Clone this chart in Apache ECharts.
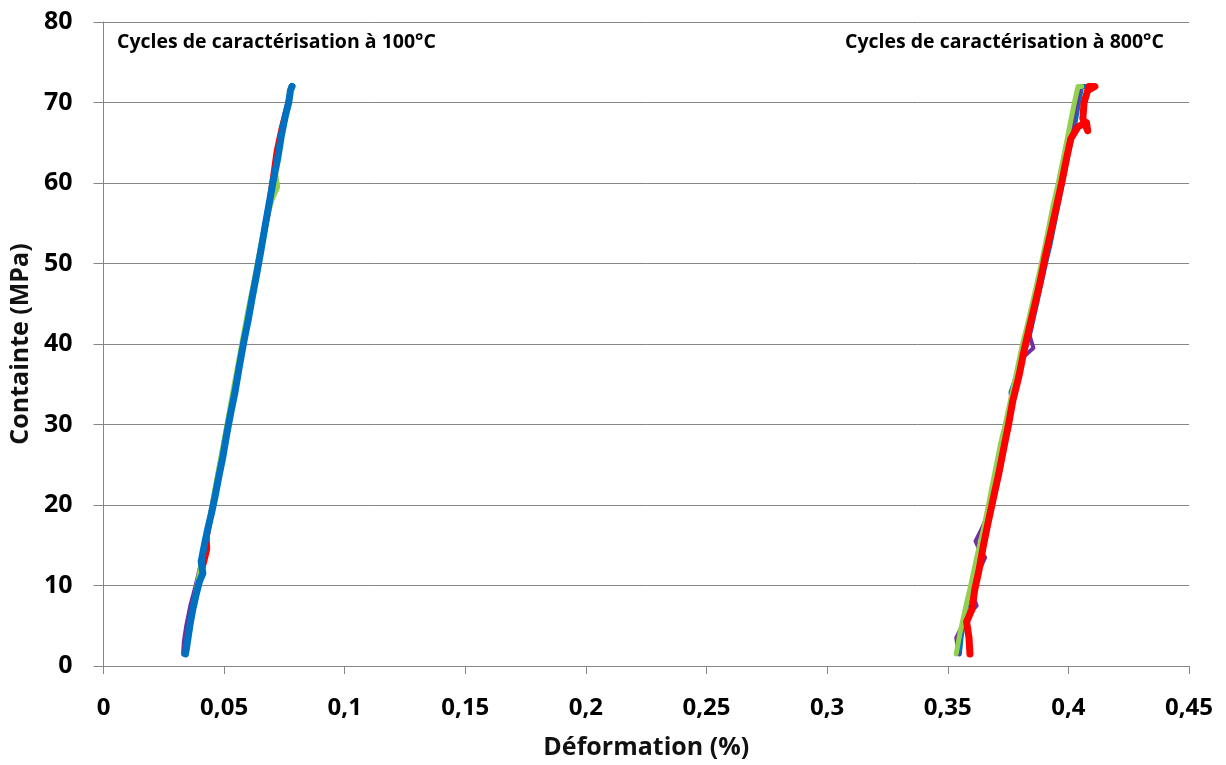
<!DOCTYPE html>
<html>
<head>
<meta charset="utf-8">
<script src="https://cdn.jsdelivr.net/npm/echarts@6/dist/echarts.min.js"></script>
<style>
  html, body { margin: 0; padding: 0; background: #fff; }
  #main { width: 1226px; height: 765px; }
</style>
</head>
<body>
<div id="main"></div>
<script>
// points are [strain %, stress MPa]
var red100 = [[0.0345,2],[0.0358,5],[0.0376,8],[0.0392,10],[0.0420,13],[0.0432,14.5],[0.0430,16],[0.0445,18.5],[0.0458,20.5],[0.0478,24],[0.0500,27.5],[0.0518,30],[0.0540,34],[0.0560,37],[0.0582,40.5],[0.0612,45],[0.0640,49.5],[0.0665,53.5],[0.0685,56.5],[0.0690,58.5],[0.0702,61],[0.0716,64],[0.0738,67],[0.0760,69.5],[0.0778,72]];
var purple100 = [[0.0332,1.5],[0.0335,3],[0.0345,5],[0.0362,7.5],[0.0380,9.5],[0.0400,12],[0.0420,15],[0.0445,19],[0.0470,23],[0.0495,27],[0.0520,31],[0.0545,35],[0.0570,39],[0.0595,43],[0.0620,47],[0.0645,51],[0.0670,55],[0.0695,59],[0.0720,63],[0.0745,67],[0.0765,70],[0.0778,72]];
var green100 = [[0.0340,2],[0.0360,5.5],[0.0385,9.5],[0.0410,13.5],[0.0435,17.5],[0.0462,22],[0.0490,26.5],[0.0515,30.5],[0.0542,35],[0.0570,39.5],[0.0598,44],[0.0625,48],[0.0650,52],[0.0675,55.5],[0.0700,58],[0.0722,59.5],[0.0712,61.5],[0.0730,64.5],[0.0752,68],[0.0772,71],[0.0780,72]];
var blue100 = [[0.0340,1.5],[0.0348,3],[0.0358,5],[0.0370,7],[0.0385,9],[0.0398,10.5],[0.0412,11.5],[0.0405,13],[0.0418,15],[0.0432,17],[0.0448,19],[0.0462,21],[0.0478,23.5],[0.0495,26],[0.0512,29],[0.0528,31.5],[0.0545,34],[0.0562,37],[0.0580,40],[0.0600,43],[0.0618,46],[0.0637,49],[0.0655,52],[0.0672,55],[0.0690,58],[0.0705,60.5],[0.0722,63],[0.0738,66],[0.0755,68.5],[0.0768,70],[0.0775,71.5],[0.0782,72]];

var blue800 = [[0.3548,1.5],[0.3555,3.5],[0.3568,6],[0.3585,8.5],[0.3605,10],[0.3630,11.5],[0.3635,13],[0.3650,15.5],[0.3668,18],[0.3685,20],[0.3700,22],[0.3718,24.5],[0.3735,27.5],[0.3752,30],[0.3768,32.5],[0.3762,34],[0.3785,36],[0.3800,37.5],[0.3822,39.5],[0.3845,42],[0.3868,45],[0.3890,48],[0.3905,50],[0.3925,52.5],[0.3945,55.5],[0.3962,58],[0.3982,61],[0.4002,64],[0.4025,67],[0.4042,70],[0.4055,72],[0.4075,72]];
var purple800 = [[0.3545,1.5],[0.3535,3.5],[0.3560,5],[0.3590,6.5],[0.3620,7.5],[0.3600,9],[0.3610,11],[0.3640,12.5],[0.3655,13.5],[0.3630,14.5],[0.3615,15.5],[0.3640,17],[0.3668,19],[0.3688,22.5],[0.3708,25],[0.3728,28],[0.3748,31],[0.3770,34],[0.3795,37],[0.3818,38.5],[0.3855,39.5],[0.3840,41],[0.3860,44],[0.3882,47],[0.3905,50],[0.3930,54],[0.3955,58],[0.3978,61.5],[0.4002,65],[0.4025,68.5],[0.4048,72]];
var green800 = [[0.3535,1.5],[0.3550,4],[0.3572,7],[0.3595,10],[0.3620,13.5],[0.3648,17],[0.3672,20.5],[0.3695,24],[0.3718,27.5],[0.3738,30],[0.3760,33],[0.3785,36.5],[0.3810,40],[0.3835,43],[0.3862,46.5],[0.3888,50],[0.3912,53.5],[0.3935,57],[0.3958,60],[0.3982,63.5],[0.4005,67],[0.4025,70],[0.4040,72],[0.4055,72]];
var red800 = [[0.3592,1.5],[0.3588,3.5],[0.3578,5.5],[0.3600,7],[0.3612,9.5],[0.3630,12],[0.3648,15],[0.3665,17.5],[0.3690,21],[0.3712,24],[0.3735,27.5],[0.3752,30],[0.3770,33],[0.3795,36],[0.3815,39],[0.3838,42],[0.3862,45],[0.3885,48],[0.3905,51],[0.3928,54],[0.3950,57],[0.3972,60],[0.3992,63],[0.4010,65.5],[0.4040,67],[0.4075,67.5],[0.4080,66.5],[0.4060,68],[0.4065,70],[0.4080,71.5],[0.4110,72],[0.4085,72]];

var notes = ['Cycles de caractérisation à 100°C', 'Cycles de caractérisation à 800°C'];

var BLUE = '#0070C0', RED = '#FF0000', GREEN = '#92D050', PURPLE = '#7030A0';
var font = '"Open Sans", sans-serif';

function line(data, color, w) {
    return {
        type: 'line',
        data: data,
        showSymbol: false,
        silent: true,
        lineStyle: { color: color, width: w, cap: 'round', join: 'round' }
    };
}

var myChart = echarts.init(document.getElementById('main'));
option = {
    animation: false,
    grid: { left: 103, right: 37, top: 22, bottom: 98 },
    xAxis: {
        type: 'value',
        min: 0,
        max: 0.45,
        interval: 0.05,
        name: 'Déformation (%)',
        nameLocation: 'middle',
        nameGap: 69,
        nameTextStyle: { fontFamily: font, fontWeight: 'bold', fontSize: 25, color: '#111' },
        axisLine: { lineStyle: { color: '#868686' } },
        axisTick: { show: true, length: 8, lineStyle: { color: '#868686' } },
        splitLine: { show: false },
        axisLabel: {
            margin: 30,
            fontFamily: font, fontWeight: 'bold', fontSize: 24, color: '#000',
            formatter: function (v) { return String(Number(v.toFixed(2))).replace('.', ','); }
        }
    },
    yAxis: {
        type: 'value',
        min: 0,
        max: 80,
        interval: 10,
        name: 'Containte (MPa)',
        nameLocation: 'middle',
        nameGap: 69,
        nameTextStyle: { fontFamily: font, fontWeight: 'bold', fontSize: 25, color: '#111' },
        axisLine: { show: true, lineStyle: { color: '#868686' } },
        axisTick: { show: true, length: 10, lineStyle: { color: '#868686' } },
        splitLine: { lineStyle: { color: '#868686' } },
        axisLabel: { margin: 31, fontFamily: font, fontWeight: 'bold', fontSize: 25, color: '#000' }
    },
    graphic: [
        { type: 'text', left: 117, top: 32, style: { text: notes[0], font: 'bold 19.5px ' + font, fill: '#000' } },
        { type: 'text', left: 845, top: 32, style: { text: notes[1], font: 'bold 19.5px ' + font, fill: '#000' } }
    ],
    series: [
        line(red100, RED, 5),
        line(purple100, PURPLE, 5),
        line(green100, GREEN, 5),
        line(blue100, BLUE, 7),
        line(blue800, BLUE, 5),
        line(purple800, PURPLE, 4),
        line(green800, GREEN, 5),
        line(red800, RED, 7)
    ]
};
myChart.setOption(option);
</script>
</body>
</html>
